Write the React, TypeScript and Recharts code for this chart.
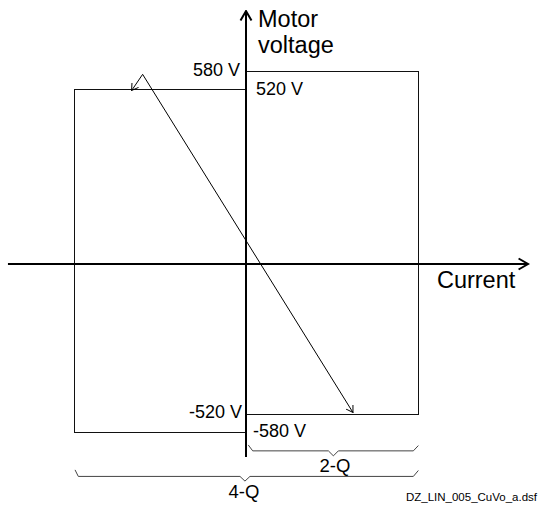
import { LineChart, Line, XAxis, YAxis, ReferenceDot } from "recharts";

// current in p.u. of the current limit, voltage in V
const rect2Q = [
  { i: 0, v: 580 },
  { i: 1, v: 580 },
  { i: 1, v: -520 },
  { i: 0, v: -520 },
];
const rect4Q = [
  { i: 0, v: 520 },
  { i: -1, v: 520 },
  { i: -1, v: -580 },
  { i: 0, v: -580 },
];
const characteristic = [
  { i: -0.665, v: 518 },
  { i: -0.601, v: 570 },
  { i: 0.622, v: -515 },
];
const currentAxis = [
  { i: -1.384, v: -38.5 },
  { i: 1.64, v: -38.5 },
];
const voltageAxis = [
  { i: 0, v: -658 },
  { i: 0, v: 773 },
];
const brace2Q = [
  { i: 0.013, v: -619 },
  { i: 0.039, v: -638 },
  { i: 0.479, v: -638 },
  { i: 0.508, v: -654 },
  { i: 0.537, v: -638 },
  { i: 0.973, v: -638 },
  { i: 1.002, v: -621 },
];
const brace4Q = [
  { i: -0.994, v: -699 },
  { i: -0.975, v: -720 },
  { i: -0.035, v: -720 },
  { i: -0.006, v: -735 },
  { i: 0.023, v: -720 },
  { i: 0.973, v: -720 },
  { i: 1.002, v: -701 },
];
const labels = [
  { text: "Motor", i: 0.07, v: 722, anchor: "start", size: 23.5 },
  { text: "voltage", i: 0.07, v: 638, anchor: "start", size: 23.5 },
  { text: "580 V", i: -0.035, v: 565, anchor: "end", size: 18 },
  { text: "520 V", i: 0.058, v: 504, anchor: "start", size: 18 },
  { text: "-520 V", i: -0.023, v: -533, anchor: "end", size: 18 },
  { text: "-580 V", i: 0.041, v: -595, anchor: "start", size: 18 },
  { text: "Current", i: 1.11, v: -115, anchor: "start", size: 23.5 },
  { text: "2-Q", i: 0.517, v: -705, anchor: "middle", size: 18.5 },
  { text: "4-Q", i: -0.012, v: -790, anchor: "middle", size: 18.5 },
  { text: "DZ_LIN_005_CuVo_a.dsf", i: 1.692, v: -799, anchor: "end", size: 11.5 },
];

const xDomain = [-246 / 172, 304 / 172];
const yDomain = [-814.9, 808.5];
const font = "Arial, 'Liberation Sans', sans-serif";

const Markers = () => (
  <svg width={0} height={0} style={{ position: "absolute" }}>
    <defs>
      <marker id="thin" markerUnits="userSpaceOnUse" markerWidth={10} markerHeight={10}
        viewBox="0 0 10 10" refX={9.5} refY={5} orient="auto-start-reverse">
        <path d="M3,1 L9.5,5 L3,9" fill="none" stroke="#000" strokeWidth={1} />
      </marker>
      <marker id="thick" markerUnits="userSpaceOnUse" markerWidth={14} markerHeight={14}
        viewBox="0 0 14 14" refX={12.5} refY={7} orient="auto">
        <path d="M3,1.5 L12.5,7 L3,12.5" fill="none" stroke="#000" strokeWidth={2} />
      </marker>
    </defs>
  </svg>
);

const App = () => {
  const line = (data: any[], key: string, stroke: string, width: number, marker?: string, both?: boolean, crisp?: boolean) => (
    <Line
      key={key}
      data={data}
      dataKey="v"
      type="linear"
      stroke={stroke}
      strokeWidth={width}
      dot={false}
      activeDot={false}
      isAnimationActive={false}
      shapeRendering={crisp ? "crispEdges" : undefined}
      markerEnd={marker ? `url(#${marker})` : undefined}
      markerStart={both && marker ? `url(#${marker})` : undefined}
    />
  );

  return (
    <div style={{ position: "absolute", left: 0, top: 0, background: "#fff" }}>
      <Markers />
      <LineChart width={550} height={506} margin={{ top: 0, right: 0, bottom: 0, left: 0 }}>
        <XAxis type="number" dataKey="i" domain={xDomain} allowDataOverflow hide />
        <YAxis type="number" domain={yDomain} allowDataOverflow hide />
        {line(rect4Q, "rect4Q", "#111", 1, undefined, false, true)}
        {line(rect2Q, "rect2Q", "#111", 1, undefined, false, true)}
        {line(brace2Q, "brace2Q", "#444", 1)}
        {line(brace4Q, "brace4Q", "#444", 1)}
        {line(characteristic, "characteristic", "#000", 1, "thin", true)}
        {line(currentAxis, "currentAxis", "#000", 2, "thick")}
        {line(voltageAxis, "voltageAxis", "#000", 2, "thick")}
        {labels.map((l) => (
          <ReferenceDot
            key={l.text}
            x={l.i}
            y={l.v}
            r={0}
            shape={(p: any) => (
              <text x={p.cx} y={p.cy} textAnchor={l.anchor} fontSize={l.size} fontFamily={font} fill="#000">
                {l.text}
              </text>
            )}
          />
        ))}
      </LineChart>
    </div>
  );
};

export default App;
